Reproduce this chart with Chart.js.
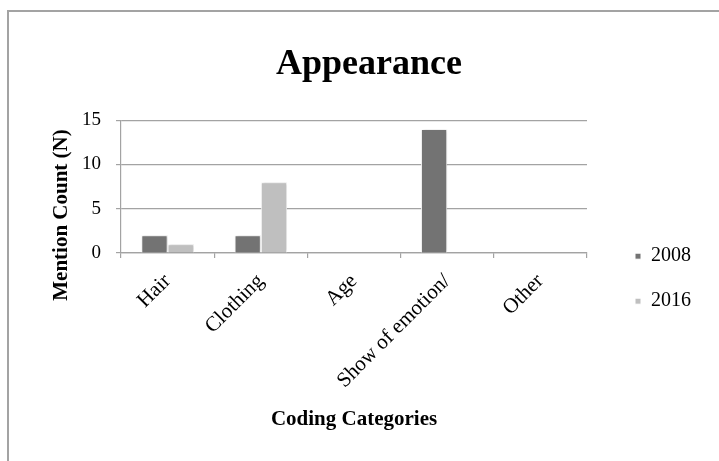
<!DOCTYPE html>
<html>
<head>
<meta charset="utf-8">
<title>Appearance</title>
<script src="https://cdn.jsdelivr.net/npm/chart.js@4"></script>
<style>
  html, body { margin: 0; padding: 0; background: #fff; overflow: hidden; }
  #wrap { position: relative; width: 719px; height: 461px; }
  #frame {
    position: absolute; left: 7px; top: 10px; width: 800px; height: 600px;
    border-top: 2px solid #a3a3a3; border-left: 2px solid #a3a3a3;
  }
  #c { position: absolute; left: 0; top: 0; }
</style>
</head>
<body>
<div id="wrap">
  <div id="frame"></div>
  <canvas id="c" width="719" height="461"></canvas>
</div>
<script>
// Coding categories and mention counts per year
const categories = ['Hair', 'Clothing', 'Age', 'Show of emotion/', 'Other'];
const counts2008 = [2, 2, 0, 14, 0];
const counts2016 = [1, 8, 0, 0, 0];
const seriesLabels = ['2008', '2016'];
const yRange = { min: 0, max: 15, step: 5 };

const SERIF = "'Liberation Serif', 'Times New Roman', serif";
const GRID = '#a3a3a3';

// Soft shadow behind the bars
const barShadow = {
  id: 'barShadow',
  beforeDatasetsDraw(chart) {
    const ctx = chart.ctx;
    ctx.save();
    ctx.shadowColor = 'rgba(0,0,0,0.22)';
    ctx.shadowBlur = 3;
    ctx.shadowOffsetX = 1;
    ctx.shadowOffsetY = 0;
  },
  afterDatasetsDraw(chart) {
    chart.ctx.restore();
  }
};

// Vertical axis caption
const yCaption = {
  id: 'yCaption',
  afterDraw(chart) {
    const ctx = chart.ctx;
    ctx.save();
    ctx.translate(62, 215);
    ctx.rotate(-Math.PI / 2);
    ctx.font = 'bold 21px ' + SERIF;
    ctx.fillStyle = '#000';
    ctx.textAlign = 'center';
    ctx.textBaseline = 'middle';
    ctx.fillText('Mention Count (N)', 0, 0);
    ctx.restore();
  }
};

new Chart(document.getElementById('c'), {
  type: 'bar',
  data: {
    labels: categories,
    datasets: [
      {
        label: seriesLabels[0],
        data: counts2008,
        backgroundColor: '#737373',
        borderColor: '#ffffff',
        borderWidth: 1
      },
      {
        label: seriesLabels[1],
        data: counts2016,
        backgroundColor: '#bfbfbf',
        borderColor: '#ffffff',
        borderWidth: 1
      }
    ]
  },
  options: {
    responsive: false,
    devicePixelRatio: 1,
    animation: false,
    categoryPercentage: 0.564,
    barPercentage: 1,
    layout: { padding: { left: 37, right: 18, top: 0, bottom: 0 } },
    plugins: {
      tooltip: { enabled: false },
      title: {
        display: true,
        text: 'Appearance',
        color: '#000',
        font: { family: SERIF, size: 36, weight: 'bold', lineHeight: 1.2 },
        padding: { top: 43, bottom: 34 }
      },
      legend: {
        display: true,
        position: 'right',
        align: 'center',
        title: { display: true, text: '', padding: { top: 82, bottom: 0 } },
        labels: {
          color: '#000',
          font: { family: SERIF, size: 20 },
          boxWidth: 6,
          boxHeight: 6,
          padding: 25
        }
      }
    },
    scales: {
      x: {
        grid: {
          display: true,
          drawOnChartArea: false,
          drawTicks: true,
          tickLength: 5,
          color: GRID,
          tickColor: GRID,
          lineWidth: 1.2,
          offset: true
        },
        border: { display: true, color: GRID, width: 1.2 },
        ticks: {
          color: '#000',
          font: { family: SERIF, size: 21 },
          minRotation: 45,
          maxRotation: 45,
          autoSkip: false,
          padding: 11
        },
        title: {
          display: true,
          text: 'Coding Categories',
          color: '#000',
          font: { family: SERIF, size: 21, weight: 'bold', lineHeight: 1.2 },
          padding: { top: 0, bottom: 29 }
        },
        afterFit(scale) { scale.height = 208; }
      },
      y: {
        min: yRange.min,
        max: yRange.max,
        grid: {
          color: GRID,
          tickColor: GRID,
          lineWidth: 1.2,
          tickLength: 5,
          drawTicks: true
        },
        border: { display: true, color: GRID, width: 1.2 },
        ticks: {
          stepSize: yRange.step,
          color: '#000',
          font: { family: SERIF, size: 19 },
          padding: 15
        },
        afterFit(scale) { scale.width = 84; }
      },
      gap: {
        type: 'linear',
        position: 'right',
        display: true,
        grid: { display: false },
        border: { display: false },
        ticks: { display: false },
        afterFit(scale) { scale.width = 23; }
      }
    }
  },
  plugins: [barShadow, yCaption]
});
</script>
</body>
</html>
